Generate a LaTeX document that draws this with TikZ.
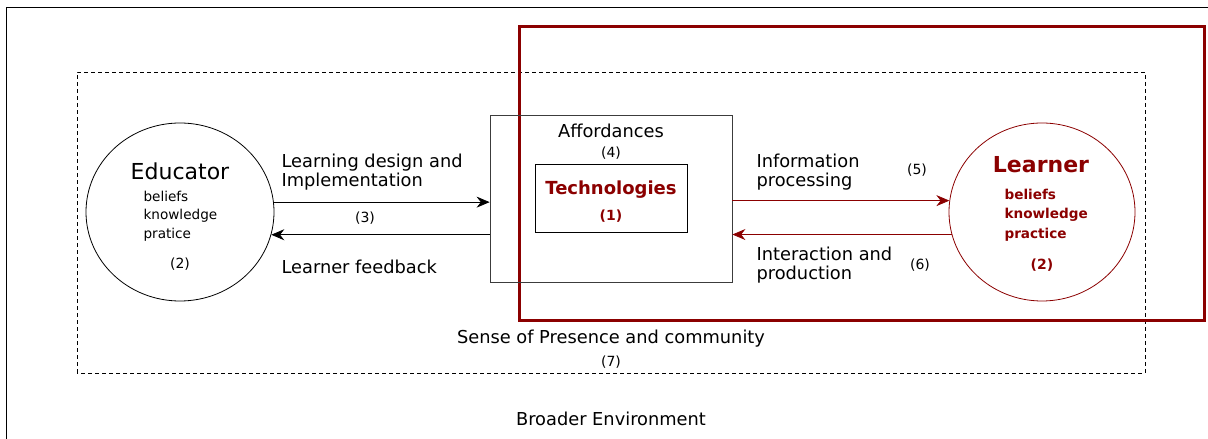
\documentclass[tikz,border=0pt]{standalone}
\usepackage{fontspec}
\setmainfont{DejaVu Sans}
\usetikzlibrary{shapes.geometric,arrows.meta,calc}
\definecolor{dred}{RGB}{139,0,0}
\definecolor{boxgray}{RGB}{60,60,60}
\tikzset{
  thinline/.style={line width=0.8pt},
  circ/.style={ellipse,draw,thinline,inner sep=0pt},
  plainbox/.style={rectangle,draw=boxgray,thinline,inner sep=0pt},
  blk/.style={thinline,-{Stealth[length=13pt,width=11pt]}},
  redarr/.style={thinline,draw=dred,-{Stealth[length=13pt,width=11pt]},fill=dred},
  big/.style={font=\fontsize{22}{26}\selectfont},
  med/.style={font=\fontsize{17.8}{19}\selectfont},
  sml/.style={font=\fontsize{14}{16}\selectfont},
  lst/.style={font=\fontsize{13.6}{18.5}\selectfont,align=left,anchor=west},
  twol/.style={font=\fontsize{17.8}{19}\selectfont,align=left,anchor=west},
}
\begin{document}
\begin{tikzpicture}[x=1pt,y=1pt]
\useasboundingbox (0,0) rectangle (1208,439);
% outer frame (left and top edges)
\draw[thinline] (6,0) -- (6,432) -- (1208,432);
% dashed community region
\draw[thinline,dashed,dash pattern=on 4pt off 3pt] (77,66) rectangle (1145,367);
% red learner frame
\draw[dred,line width=3pt] (519,118) rectangle (1204,412);
% nodes
\node[circ,minimum width=188pt,minimum height=178pt] (edu) at (180,227) {};
\node[circ,draw=dred,minimum width=186pt,minimum height=178pt] (lrn) at (1042,227) {};
\node[plainbox,minimum width=242pt,minimum height=167pt] (mid) at (611,240.5) {};
\node[plainbox,draw=black,minimum width=152pt,minimum height=68pt] (tech) at (611,241) {};
% texts
\node[big] (edut) at (180,268) {Educator};
\node[lst] (edul) at (140,223) {beliefs\\knowledge\\pratice};
\node[sml] (edun) at (180,175) {(2)};
\node[twol] (ldt) at (278,266.5) {Learning design and\\Implementation};
\node[sml] (n3) at (365,221) {(3)};
\node[med,anchor=west] (lft) at (278,172) {Learner feedback};
\node[med] (aff) at (611,308) {Affordances};
\node[sml] (n4) at (611,286) {(4)};
\node[med,font=\fontsize{18}{19}\selectfont\bfseries,text=dred] (techt) at (611,249) {Technologies};
\node[sml,font=\fontsize{14}{16}\selectfont\bfseries,text=dred] (n1) at (611,223) {(1)};
\node[twol] (ipt) at (753,266.5) {Information\\processing};
\node[sml] (n5) at (917,269) {(5)};
\node[twol] (iat) at (753,174) {Interaction and\\production};
\node[sml] (n6) at (920,174) {(6)};
\node[big,font=\fontsize{22}{26}\selectfont\bfseries,text=dred] (lrt) at (1041,274) {Learner};
\node[lst,font=\fontsize{13.6}{19.5}\selectfont\bfseries,text=dred] (lrl) at (1001,224) {beliefs\\knowledge\\practice};
\node[sml,font=\fontsize{14}{16}\selectfont\bfseries,text=dred] (lrn2) at (1042,174) {(2)};
\node[med] (spc) at (611,100) {Sense of Presence and community};
\node[sml] (n7) at (611,77) {(7)};
\node[med] (bro) at (611,20) {Broader Environment};
% connectors
\draw[blk] (edu.6.7) -- (edu.6.7 -| mid.west);
\draw[blk] (edu.-14.85 -| mid.west) -- (edu.-14.85);
\draw[redarr] (lrn.173.3 -| mid.east) -- (lrn.173.3);
\draw[redarr] (lrn.194.85) -- (lrn.194.85 -| mid.east);
\end{tikzpicture}
\end{document}
